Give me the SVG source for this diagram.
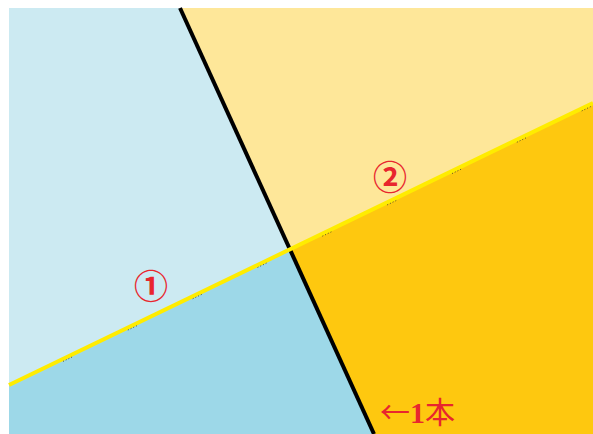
<svg xmlns="http://www.w3.org/2000/svg" width="593" height="434" viewBox="0 0 593 434">
<style>
.lbl{fill:#e8262e;font-family:"Liberation Serif","Noto Sans CJK JP",serif;}
.cj{font-family:"Noto Sans CJK JP",sans-serif;}
</style>
<rect width="593" height="434" fill="#ffffff"/>
<g id="regions">
<polygon id="topleft" points="9,8 180,8 290,249.3 9,385" fill="#cceaf2"/>
<polygon id="topright" points="180,8 593,8 593,103 290,249.3" fill="#fee799"/>
<polygon id="bottomleft" points="9,385 290,249.3 374,434 9,434" fill="#9dd8e8"/>
<polygon id="bottomright" points="290,249.3 593,103 593,434 374,434" fill="#fec80f"/>
</g>
<g id="connectors">
<line x1="180" y1="8" x2="374" y2="434" stroke="#000" stroke-width="4"/>
<line x1="9" y1="385" x2="593" y2="103" stroke="#ffec00" stroke-width="4"/>
<line x1="9" y1="387.5" x2="593" y2="105.5" stroke="#333" stroke-width="1" stroke-dasharray="0 60 1 2 1 2 1 2 1 2" opacity="0.8"/>
</g>
<g id="label1"><text class="lbl cj" x="151" y="299" font-size="34" font-weight="bold" text-anchor="middle">①</text></g>
<g id="label2"><text class="lbl cj" x="390" y="190" font-size="34" font-weight="bold" text-anchor="middle">②</text></g>
<g id="label3"><text class="lbl" x="380" y="423" font-size="30" font-weight="bold"><tspan class="cj" font-weight="normal">←</tspan>1<tspan class="cj" font-weight="normal">本</tspan></text></g>
</svg>
